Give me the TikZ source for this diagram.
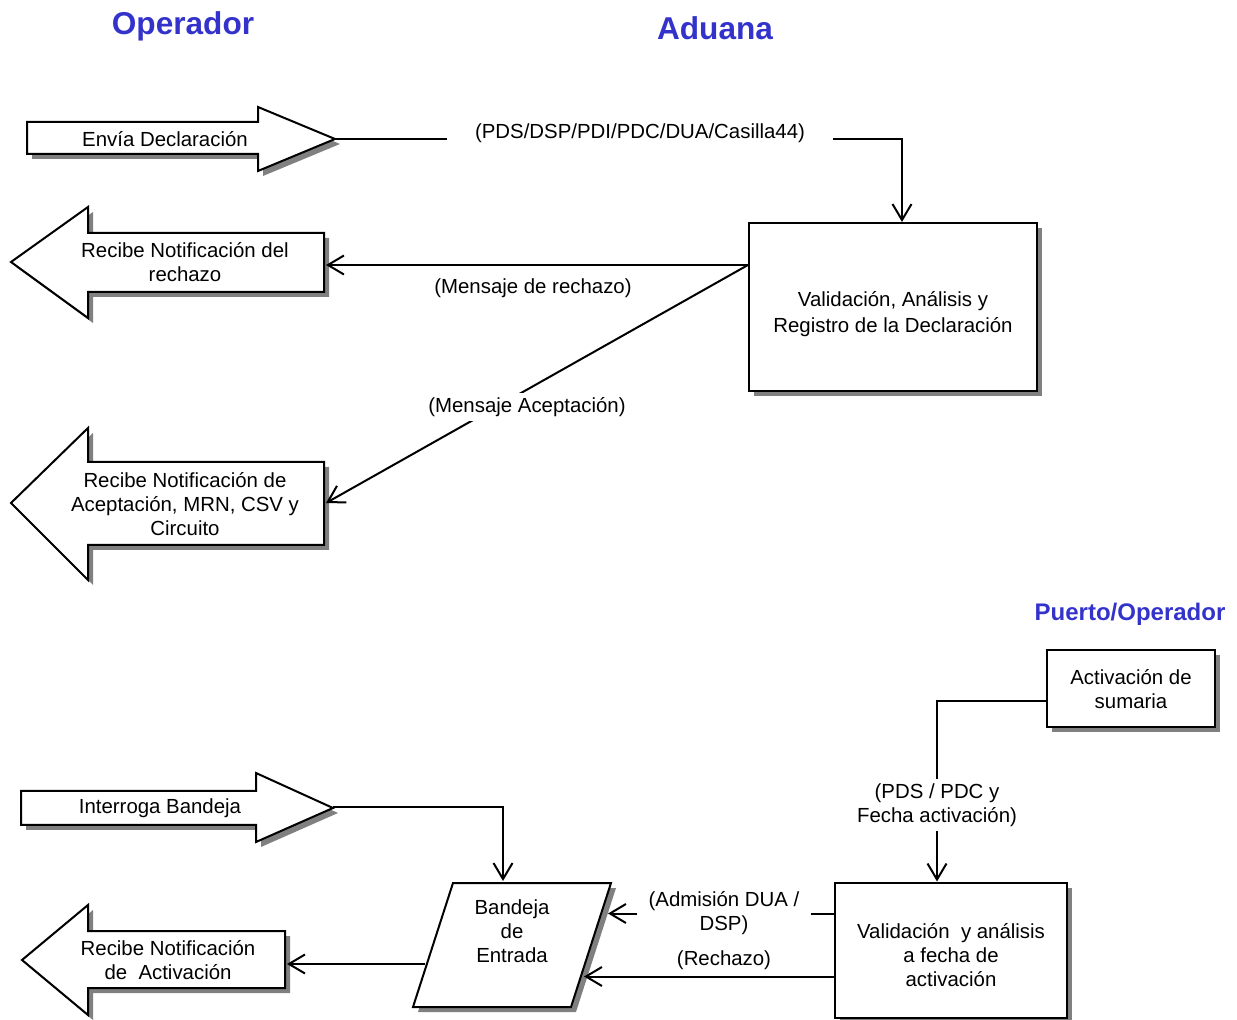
\documentclass[tikz,border=0pt]{standalone}
\usepackage{fontspec}
\setmainfont{Liberation Sans}
\usetikzlibrary{arrows.meta,shadows,calc}
\definecolor{headblue}{RGB}{51,51,204}
\definecolor{shgray}{RGB}{128,128,128}
\newcommand{\dgtxt}{\fontsize{10.2}{12}\selectfont}
\tikzset{
  shd/.style={drop shadow={shadow xshift=2.5pt,shadow yshift=-2.5pt,fill=shgray,opacity=1}},
  shp/.style={draw,line width=1pt,fill=white,shd},
  box/.style={shp,rectangle,align=center,font=\dgtxt,inner sep=0pt},
  txt/.style={align=center,font=\dgtxt},
  lbl/.style={txt,fill=white,inner xsep=14pt,inner ysep=2pt},
  conn/.style={line width=1pt,-{Straight Barb[length=8pt,width=9.5pt]}},
  head/.style={font=\fontsize{15.8}{18}\selectfont\bfseries,text=headblue}
}
\begin{document}
\begin{tikzpicture}[x=0.5pt,y=-0.5pt]
\useasboundingbox (0,0) rectangle (1237,1020);
% headings
\node[head] (hop) at (183,26) {Operador};
\node[head] (had) at (715,28) {Aduana};
\node[head,font=\fontsize{12}{14}\selectfont\bfseries] (hpu) at (1130,614) {Puerto/Operador};

% Envia arrow
\path[shp] (27,122) -- (258,122) -- (258,107) -- (335,139) -- (258,171) -- (258,154) -- (27,154) -- cycle;
\node[txt] (env) at (165,139) {Envía Declaración};
\coordinate (envtip) at (335,139);

% Validation box
\node[box,minimum width=144pt,minimum height=84pt] (val) at (893,307) {};
\node[txt,font=\fontsize{10.2}{13}\selectfont] (valtxt) at ($(val)+(0,7)$) {Validación, Análisis y\\Registro de la Declaración};
\draw[conn] (envtip) -| ($(val.north)+(9,0)$);
\node[lbl] (l1) at (640,133) {(PDS/DSP/PDI/PDC/DUA/Casilla44)};

% Rechazo arrow
\path[shp] (11,262) -- (88,207) -- (88,233) -- (324,233) -- (324,292) -- (88,292) -- (88,318) -- cycle;
\node[txt] (rej) at (185,262) {Recibe Notificación del\\rechazo};
\coordinate (rejR) at (326,266);
\coordinate (valA) at ($(val.north west)+(0,43)$);
\draw[conn] (valA) -- (valA -| rejR);
\node[txt] (l2) at (533,288) {(Mensaje de rechazo)};

% Aceptacion arrow
\path[shp] (11,503) -- (88,428) -- (88,462) -- (324,462) -- (324,545) -- (88,545) -- (88,580) -- cycle;
\node[txt] (acc) at (185,504) {Recibe Notificación de\\Aceptación, MRN, CSV y\\Circuito};
\coordinate (accR) at (326,503);
\draw[conn] (valA) -- (accR);
\node[lbl,inner xsep=0pt] (l3) at (527,407) {(Mensaje Aceptación)};

% Activacion de sumaria
\node[box,minimum width=84pt,minimum height=38.5pt] (sum) at (1131,689) {Activación de\\sumaria};

% Validacion 2
\node[box,minimum width=116pt,minimum height=67.5pt] (val2) at (951,950) {};
\node[txt] (val2txt) at ($(val2)+(0,5)$) {Validación\ \ y análisis\\a fecha de\\activación};
\draw[conn] ($(sum.west)+(0,12)$) -| ($(val2.north)+(-14,0)$);
\node[lbl] (l4) at (937,805) {(PDS / PDC y\\Fecha activación)};

% Interroga arrow
\path[shp] (21,791) -- (256,791) -- (256,773) -- (333,808) -- (256,842) -- (256,825) -- (21,825) -- cycle;
\node[txt] (int) at (160,808) {Interroga Bandeja};
\coordinate (intTip) at (333,807);

% Bandeja
\path[shp] (453,883) -- (611,883) -- (571,1007) -- (413,1007) -- cycle;
\node[txt] (ban) at (512,931) {Bandeja\\de\\Entrada};
\coordinate (banTop) at (503,881);
\draw[conn] (intTip) -| (banTop);

% Notificacion activacion
\path[shp] (22,960) -- (88,905) -- (88,931) -- (285,931) -- (285,988) -- (88,988) -- (88,1015) -- cycle;
\node[txt] (act) at (168,960) {Recibe Notificación\\de\ \ Activación};
\coordinate (actR) at (287,964);
\coordinate (banL) at (425,964);
\draw[conn] (banL) -- (actR);

% Validacion 2 -> Bandeja
\coordinate (banR1) at (608,915);
\coordinate (banR2) at (584,978);
\coordinate (v2a) at ($(val2.north west)+(0,32)$);
\coordinate (v2b) at ($(val2.north west)+(0,95)$);
\draw[conn] (v2a) -- (v2a -| banR1);
\node[lbl,inner xsep=6pt] (l5) at (724,913) {(Admisión DUA /\\DSP)};
\draw[conn] (v2b) -- (v2b -| banR2);
\node[txt] (l6) at (724,960) {(Rechazo)};
\end{tikzpicture}
\end{document}
